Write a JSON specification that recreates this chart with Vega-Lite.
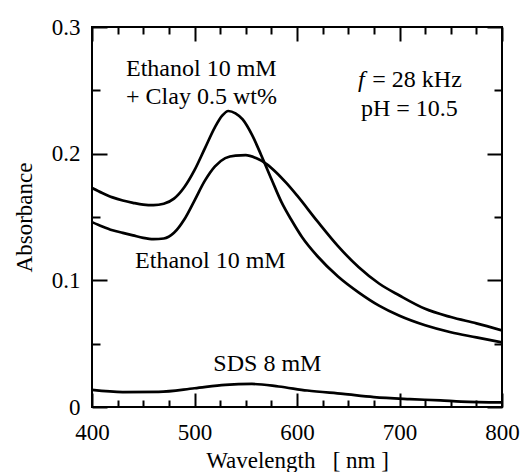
{
  "$schema": "https://vega.github.io/schema/vega-lite/v6.json",
  "width": 410,
  "height": 380,
  "autosize": "none",
  "padding": {"left": 92, "top": 27, "right": 21, "bottom": 65},
  "background": "white",
  "config": {
    "view": {"stroke": "black", "strokeWidth": 2},
    "font": "Liberation Serif",
    "axis": {
      "domain": false,
      "grid": false,
      "tickColor": "black",
      "tickWidth": 2,
      "labelColor": "black",
      "titleColor": "black",
      "labelFont": "Liberation Serif",
      "titleFont": "Liberation Serif",
      "labelFontSize": 23,
      "titleFontSize": 23,
      "titleFontWeight": "normal"
    }
  },
  "datasets": {
    "curves": [
      {"series": "Clay", "wl": 400, "abs": 0.1730},
      {"series": "Clay", "wl": 410, "abs": 0.1690},
      {"series": "Clay", "wl": 420, "abs": 0.1655},
      {"series": "Clay", "wl": 430, "abs": 0.1630},
      {"series": "Clay", "wl": 440, "abs": 0.1612},
      {"series": "Clay", "wl": 450, "abs": 0.1598},
      {"series": "Clay", "wl": 460, "abs": 0.1594},
      {"series": "Clay", "wl": 470, "abs": 0.1605},
      {"series": "Clay", "wl": 480, "abs": 0.1645},
      {"series": "Clay", "wl": 490, "abs": 0.1735},
      {"series": "Clay", "wl": 500, "abs": 0.1870},
      {"series": "Clay", "wl": 510, "abs": 0.2040},
      {"series": "Clay", "wl": 520, "abs": 0.2210},
      {"series": "Clay", "wl": 527, "abs": 0.2300},
      {"series": "Clay", "wl": 533, "abs": 0.2337},
      {"series": "Clay", "wl": 540, "abs": 0.2318},
      {"series": "Clay", "wl": 547, "abs": 0.2270},
      {"series": "Clay", "wl": 556, "abs": 0.2150},
      {"series": "Clay", "wl": 565, "abs": 0.1990},
      {"series": "Clay", "wl": 575, "abs": 0.1800},
      {"series": "Clay", "wl": 585, "abs": 0.1615},
      {"series": "Clay", "wl": 595, "abs": 0.1470},
      {"series": "Clay", "wl": 605, "abs": 0.1340},
      {"series": "Clay", "wl": 620, "abs": 0.1190},
      {"series": "Clay", "wl": 640, "abs": 0.1030},
      {"series": "Clay", "wl": 660, "abs": 0.0905},
      {"series": "Clay", "wl": 680, "abs": 0.0800},
      {"series": "Clay", "wl": 700, "abs": 0.0720},
      {"series": "Clay", "wl": 725, "abs": 0.0645},
      {"series": "Clay", "wl": 750, "abs": 0.0590},
      {"series": "Clay", "wl": 775, "abs": 0.0550},
      {"series": "Clay", "wl": 800, "abs": 0.0510},
      {"series": "Ethanol", "wl": 400, "abs": 0.1460},
      {"series": "Ethanol", "wl": 410, "abs": 0.1425},
      {"series": "Ethanol", "wl": 420, "abs": 0.1395},
      {"series": "Ethanol", "wl": 430, "abs": 0.1375},
      {"series": "Ethanol", "wl": 440, "abs": 0.1355},
      {"series": "Ethanol", "wl": 450, "abs": 0.1335},
      {"series": "Ethanol", "wl": 460, "abs": 0.1325},
      {"series": "Ethanol", "wl": 470, "abs": 0.1330},
      {"series": "Ethanol", "wl": 480, "abs": 0.1375},
      {"series": "Ethanol", "wl": 490, "abs": 0.1480},
      {"series": "Ethanol", "wl": 500, "abs": 0.1630},
      {"series": "Ethanol", "wl": 510, "abs": 0.1785},
      {"series": "Ethanol", "wl": 520, "abs": 0.1900},
      {"series": "Ethanol", "wl": 530, "abs": 0.1965},
      {"series": "Ethanol", "wl": 540, "abs": 0.1985},
      {"series": "Ethanol", "wl": 550, "abs": 0.1988},
      {"series": "Ethanol", "wl": 560, "abs": 0.1965},
      {"series": "Ethanol", "wl": 570, "abs": 0.1920},
      {"series": "Ethanol", "wl": 580, "abs": 0.1850},
      {"series": "Ethanol", "wl": 590, "abs": 0.1765},
      {"series": "Ethanol", "wl": 600, "abs": 0.1670},
      {"series": "Ethanol", "wl": 620, "abs": 0.1465},
      {"series": "Ethanol", "wl": 640, "abs": 0.1270},
      {"series": "Ethanol", "wl": 660, "abs": 0.1105},
      {"series": "Ethanol", "wl": 680, "abs": 0.0975},
      {"series": "Ethanol", "wl": 700, "abs": 0.0880},
      {"series": "Ethanol", "wl": 725, "abs": 0.0775},
      {"series": "Ethanol", "wl": 750, "abs": 0.0710},
      {"series": "Ethanol", "wl": 775, "abs": 0.0660},
      {"series": "Ethanol", "wl": 800, "abs": 0.0605},
      {"series": "SDS", "wl": 400, "abs": 0.0135},
      {"series": "SDS", "wl": 430, "abs": 0.0118},
      {"series": "SDS", "wl": 465, "abs": 0.0120},
      {"series": "SDS", "wl": 500, "abs": 0.0148},
      {"series": "SDS", "wl": 530, "abs": 0.0175},
      {"series": "SDS", "wl": 556, "abs": 0.0182},
      {"series": "SDS", "wl": 582, "abs": 0.0162},
      {"series": "SDS", "wl": 610, "abs": 0.0130},
      {"series": "SDS", "wl": 645, "abs": 0.0103},
      {"series": "SDS", "wl": 675, "abs": 0.0078},
      {"series": "SDS", "wl": 710, "abs": 0.0062},
      {"series": "SDS", "wl": 740, "abs": 0.0052},
      {"series": "SDS", "wl": 760, "abs": 0.0043},
      {"series": "SDS", "wl": 800, "abs": 0.0036}
    ],
    "labels": [
      {"label": "Ethanol 10 mM", "wl": 433.2, "abs": 0.2613, "style": "roman"},
      {"label": "+ Clay 0.5 wt%", "wl": 433.2, "abs": 0.2392, "style": "roman"},
      {"label": "Ethanol 10 mM", "wl": 442, "abs": 0.1095, "style": "roman"},
      {"label": "SDS 8 mM", "wl": 518.4, "abs": 0.0284, "style": "roman"},
      {"label": "f", "wl": 659.5, "abs": 0.2526, "style": "italic"},
      {"label": "= 28 kHz", "wl": 673.5, "abs": 0.2526, "style": "roman"},
      {"label": "pH = 10.5", "wl": 662.4, "abs": 0.2297, "style": "roman"}
    ]
  },
  "layer": [
    {
      "data": {"name": "curves"},
      "mark": {"type": "line", "interpolate": "monotone", "color": "black", "clip": true},
      "encoding": {
        "x": {
          "field": "wl", "type": "quantitative",
          "scale": {"domain": [400, 800], "nice": false, "zero": false},
          "axis": {
            "orient": "bottom",
            "values": [400, 425, 450, 475, 500, 525, 550, 575, 600, 625, 650, 675, 700, 725, 750, 775, 800],
            "labelExpr": "datum.value % 100 === 0 ? datum.label : ''",
            "tickSize": {"condition": {"test": "datum.value % 100 === 0", "value": -14}, "value": -7},
            "labelPadding": 28,
            "labelFlush": false,
            "title": "Wavelength\u00a0\u00a0\u00a0[ nm ]",
            "titlePadding": 5
          }
        },
        "y": {
          "field": "abs", "type": "quantitative",
          "scale": {"domain": [0, 0.3], "nice": false, "zero": false},
          "axis": {
            "orient": "left",
            "values": [0, 0.05, 0.1, 0.15, 0.2, 0.25, 0.3],
            "labelExpr": "abs(datum.value * 10 - round(datum.value * 10)) < 0.001 ? format(datum.value, '.1~f') : ''",
            "tickSize": {"condition": {"test": "abs(datum.value * 10 - round(datum.value * 10)) < 0.001", "value": -15}, "value": -8},
            "labelPadding": 27,
            "labelFlush": false,
            "title": "Absorbance",
            "titlePadding": 15
          }
        },
        "detail": {"field": "series", "type": "nominal"},
        "strokeWidth": {
          "field": "series", "type": "nominal",
          "scale": {"domain": ["Clay", "Ethanol", "SDS"], "range": [2.7, 2.7, 1.8]},
          "legend": null
        }
      }
    },
    {
      "data": {"name": "labels"},
      "transform": [{"filter": "datum.style === 'roman'"}],
      "mark": {"type": "text", "align": "left", "baseline": "alphabetic", "font": "Liberation Serif", "fontSize": 24, "color": "black"},
      "encoding": {
        "x": {
          "field": "wl", "type": "quantitative",
          "axis": {
            "orient": "top",
            "values": [400, 425, 450, 475, 500, 525, 550, 575, 600, 625, 650, 675, 700, 725, 750, 775, 800],
            "labels": false,
            "tickSize": {"condition": {"test": "datum.value % 100 === 0", "value": -14}, "value": -7},
            "title": null
          }
        },
        "y": {
          "field": "abs", "type": "quantitative",
          "axis": {
            "orient": "right",
            "values": [0, 0.05, 0.1, 0.15, 0.2, 0.25, 0.3],
            "labels": false,
            "tickSize": {"condition": {"test": "abs(datum.value * 10 - round(datum.value * 10)) < 0.001", "value": -15}, "value": -8},
            "title": null
          }
        },
        "text": {"field": "label", "type": "nominal"}
      }
    },
    {
      "data": {"name": "labels"},
      "transform": [{"filter": "datum.style === 'italic'"}],
      "mark": {"type": "text", "align": "left", "baseline": "alphabetic", "font": "Liberation Serif", "fontSize": 24, "fontStyle": "italic", "color": "black"},
      "encoding": {
        "x": {"field": "wl", "type": "quantitative", "axis": null},
        "y": {"field": "abs", "type": "quantitative", "axis": null},
        "text": {"field": "label", "type": "nominal"}
      }
    }
  ],
  "resolve": {"axis": {"x": "independent", "y": "independent"}}
}
